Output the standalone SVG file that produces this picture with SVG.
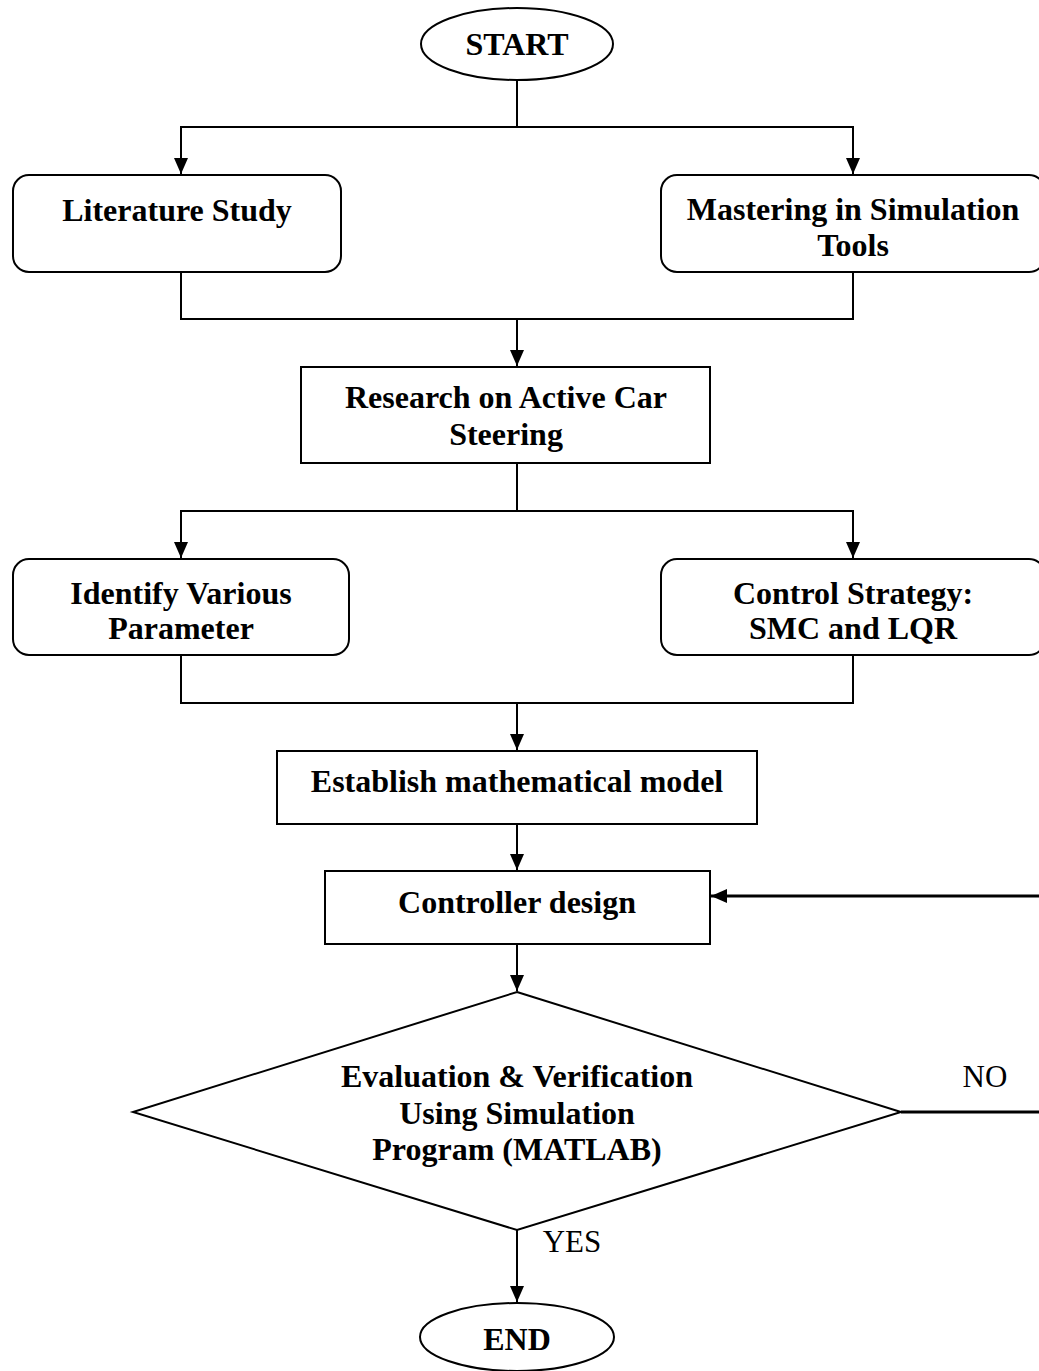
<svg xmlns="http://www.w3.org/2000/svg" width="1039" height="1371" viewBox="0 0 1039 1371">
<style>
.shape{fill:#fff;stroke:#000;stroke-width:2}
.conn{fill:none;stroke:#000;stroke-width:2}
.t{font-family:"Liberation Serif","Times New Roman",serif;font-size:32px;font-weight:bold;text-anchor:middle;fill:#000}
.lbl{font-family:"Liberation Serif","Times New Roman",serif;font-size:31px;text-anchor:middle;fill:#000}
</style>
<defs>
<marker id="ah" viewBox="0 0 16 14" refX="16" refY="7" markerWidth="16" markerHeight="14" markerUnits="userSpaceOnUse" orient="auto">
<path d="M0,0 L16,7 L0,14 Z" fill="#000"/>
</marker>
</defs>
<rect width="1039" height="1371" fill="#fff"/>
<g id="connectors">
<path class="conn" d="M517,81 V127 H181 V174" marker-end="url(#ah)"/>
<path class="conn" d="M517,127 H853 V174" marker-end="url(#ah)"/>
<path class="conn" d="M181,272 V319 H853 V272"/>
<path class="conn" d="M517,319 V366" marker-end="url(#ah)"/>
<path class="conn" d="M517,463 V511 H181 V558" marker-end="url(#ah)"/>
<path class="conn" d="M517,511 H853 V558" marker-end="url(#ah)"/>
<path class="conn" d="M181,655 V703 H853 V655"/>
<path class="conn" d="M517,703 V750" marker-end="url(#ah)"/>
<path class="conn" d="M517,824 V870" marker-end="url(#ah)"/>
<path class="conn" d="M517,944 V991" marker-end="url(#ah)"/>
<path class="conn" d="M901,1112 H1046 V896 H711" style="stroke-width:3" marker-end="url(#ah)"/>
<path class="conn" d="M517,1230 V1302" marker-end="url(#ah)"/>
<text class="lbl" x="985" y="1087">NO</text>
<text class="lbl" x="572" y="1252">YES</text>
</g>
<g id="start">
<ellipse class="shape" cx="517" cy="44" rx="96" ry="36"/>
<text class="t" x="517" y="55">START</text>
</g>
<g id="literature">
<rect class="shape" x="13" y="175" width="328" height="97" rx="16"/>
<text class="t" x="177" y="221">Literature Study</text>
</g>
<g id="mastering">
<rect class="shape" x="661" y="175" width="384" height="97" rx="16"/>
<text class="t" x="853" y="220">Mastering in Simulation</text>
<text class="t" x="853" y="256">Tools</text>
</g>
<g id="research">
<rect class="shape" x="301" y="367" width="409" height="96"/>
<text class="t" x="506" y="408">Research on Active Car</text>
<text class="t" x="506" y="445">Steering</text>
</g>
<g id="identify">
<rect class="shape" x="13" y="559" width="336" height="96" rx="16"/>
<text class="t" x="181" y="604">Identify Various</text>
<text class="t" x="181" y="639">Parameter</text>
</g>
<g id="control">
<rect class="shape" x="661" y="559" width="384" height="96" rx="16"/>
<text class="t" x="853" y="604">Control Strategy:</text>
<text class="t" x="853" y="639">SMC and LQR</text>
</g>
<g id="establish">
<rect class="shape" x="277" y="751" width="480" height="73"/>
<text class="t" x="517" y="792">Establish mathematical model</text>
</g>
<g id="controller">
<rect class="shape" x="325" y="871" width="385" height="73"/>
<text class="t" x="517" y="913">Controller design</text>
</g>
<g id="evaluation">
<polygon class="shape" points="517,992 901,1112 517,1230 133,1112"/>
<text class="t" x="517" y="1087">Evaluation &amp; Verification</text>
<text class="t" x="517" y="1124">Using Simulation</text>
<text class="t" x="517" y="1160">Program (MATLAB)</text>
</g>
<g id="end">
<ellipse class="shape" cx="517" cy="1337" rx="97" ry="34"/>
<text class="t" x="517" y="1350">END</text>
</g>
</svg>
